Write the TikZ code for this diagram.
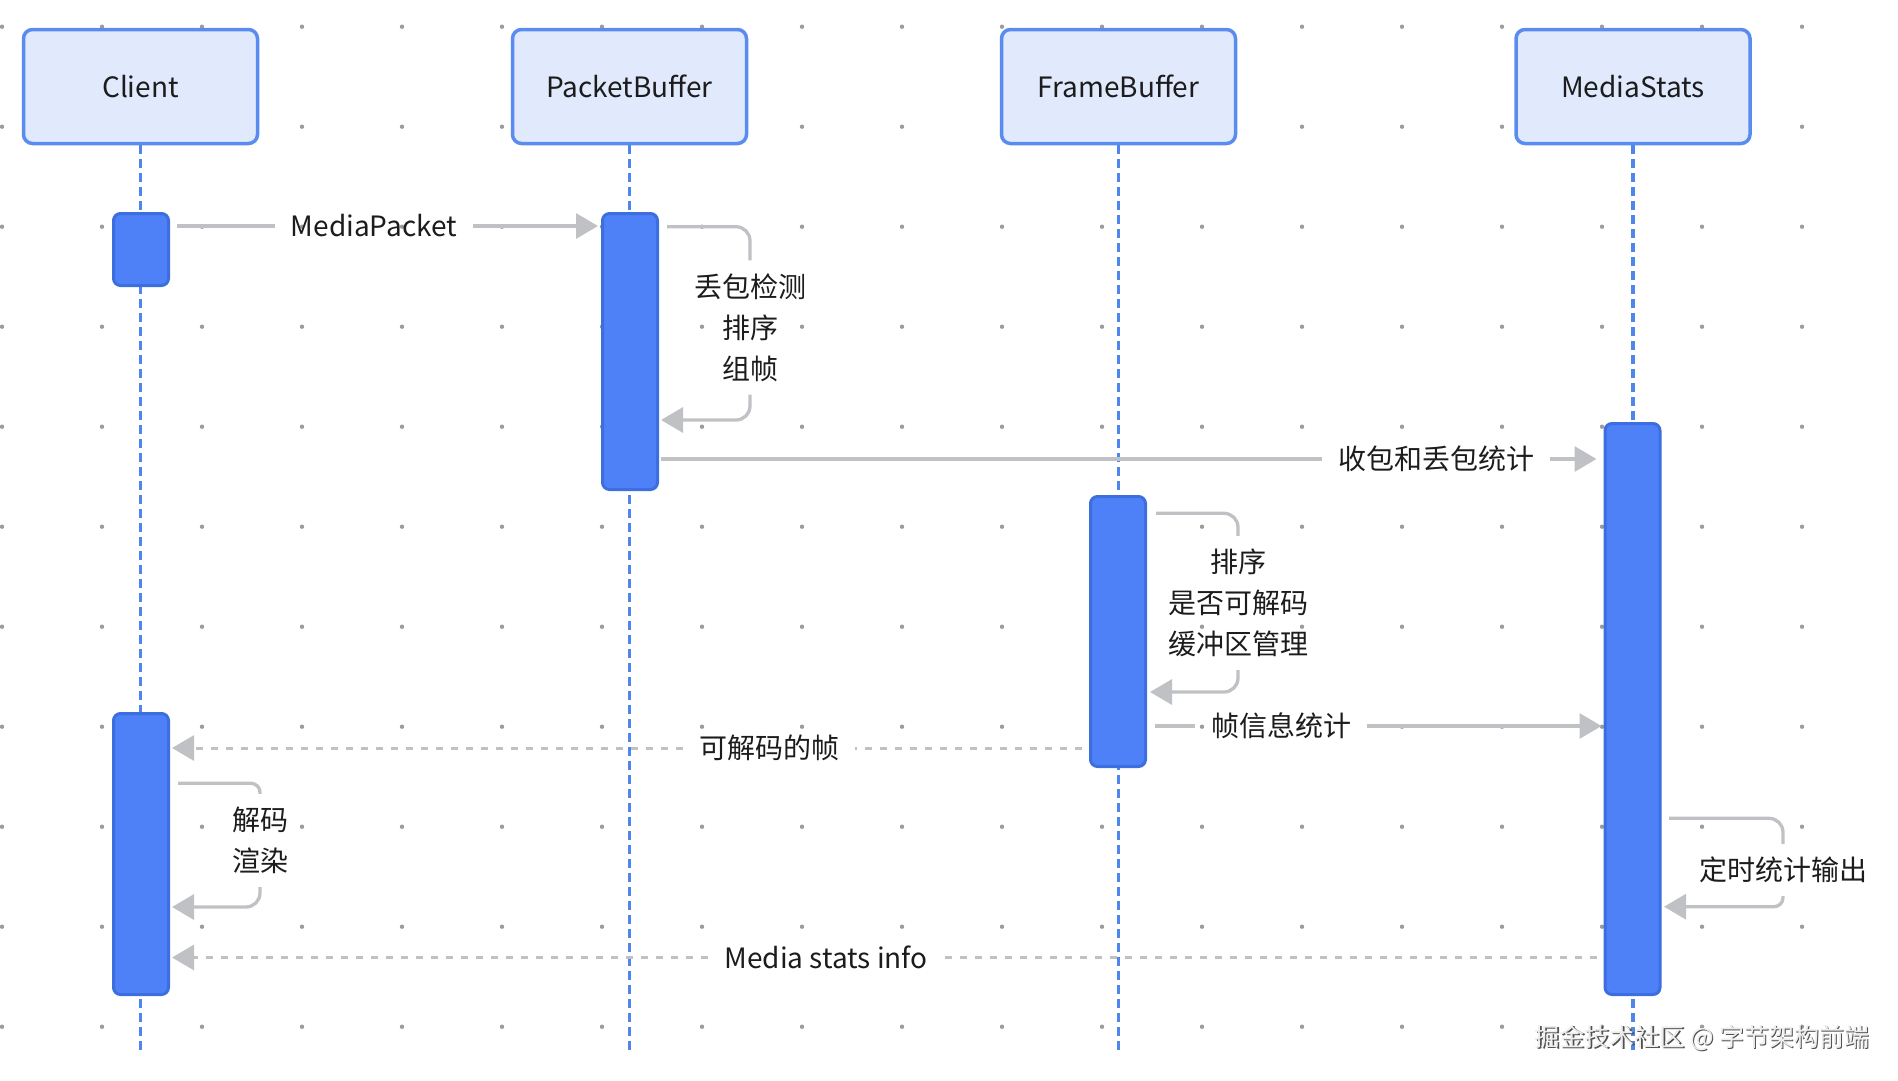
\documentclass[tikz,border=0pt]{standalone}
\usepackage{fontspec}
\setmainfont{Noto Sans CJK SC}
\usetikzlibrary{arrows.meta,positioning,calc}
\usepackage{xcolor}
\definecolor{boxfill}{HTML}{E1EAFD}
\definecolor{boxdraw}{HTML}{5A8CF0}
\definecolor{actfill}{HTML}{4E81F7}
\definecolor{actdraw}{HTML}{3D6EDF}
\definecolor{lifec}{HTML}{4F86EE}
\definecolor{msgc}{HTML}{BFC1C4}
\definecolor{dotc}{HTML}{9C9C9C}
\definecolor{textc}{HTML}{1C1C1C}
\definecolor{markc}{HTML}{EDEDED}
\definecolor{markshade}{HTML}{505050}
\tikzset{%
  >={Triangle[length=22pt,width=25pt]},
  % Specifications for style of nodes:
     actor/.style = {rectangle, rounded corners=9pt, draw=boxdraw,
                     line width=3.5pt, fill=boxfill,
                     minimum width=234pt, minimum height=114pt,
                     text=textc, font=\fontsize{28}{41}\selectfont},
       act/.style = {rectangle, rounded corners=7pt, draw=actdraw,
                     line width=3pt, fill=actfill, minimum width=55pt},
  msglabel/.style = {inner xsep=16pt, inner ysep=0pt, text=textc,
                     font=\fontsize{28}{41}\selectfont},
      note/.style = {align=center, inner xsep=0pt, inner ysep=13pt,
                     text=textc, font=\fontsize{28}{41}\selectfont},
  % Specifications for style of lines:
  lifeline/.style = {draw=lifec, line width=3.3pt, dash pattern=on 9pt off 5pt},
   msgline/.style = {draw=msgc, line width=3.3pt, rounded corners=14pt},
  dashline/.style = {draw=msgc, line width=3pt, dash pattern=on 7pt off 8pt},
}
\begin{document}
\begin{tikzpicture}[x=1pt, y=-1pt]
  \useasboundingbox (0,0) rectangle (1898,1080);
  % dot grid in the background
  \foreach \i in {0,...,18}
    \foreach \j in {0,...,10}
      \fill[dotc] (2+100*\i, 26.7+100*\j) circle (2.2pt);
  % Specification of nodes (position, etc.)
  \node (client) [actor] at (140.5,86.5)  {Client};
  \node (pbuf)   [actor] at (629.5,86.5)  {PacketBuffer};
  \node (fbuf)   [actor] at (1118.5,86.5) {FrameBuffer};
  \node (mstats) [actor] at (1633,86.5)   {MediaStats};
  \coordinate (bottom) at (0,1050);
  % lifelines
  \draw[lifeline] (client.south) -- (client.south |- bottom);
  \draw[lifeline] (pbuf.south)   -- (pbuf.south |- bottom);
  \draw[lifeline] (fbuf.south)   -- (fbuf.south |- bottom);
  \draw[lifeline] (mstats.south) -- (mstats.south |- bottom);
  % activations
  \node (cact1)  [act, minimum height=72pt]  at (141,249.5)  {};
  \node (pbact)  [act, minimum height=276pt] at (630,351.5)  {};
  \node (fbact)  [act, minimum height=270pt] at (1118,631.5) {};
  \node (msact)  [act, minimum height=571pt] at (1632.5,709) {};
  \node (cact2)  [act, minimum height=281pt] at (141,854)    {};
  % labels of the messages
  \node (mpkt)  [msglabel] at (374,226)    {MediaPacket};
  \node (pstat) [msglabel] at (1436,459)   {收包和丢包统计};
  \node (finfo) [msglabel] at (1281,726)   {帧信息统计};
  \node (decf)  [msglabel] at (769,748)    {可解码的帧};
  \node (msinfo)[msglabel] at (826,957.5)  {Media stats info};
  % notes of the self messages
  \node (pbnote) [note] at (750,327.5)  {丢包检测\\排序\\组帧};
  \node (fbnote) [note] at (1238,603)   {排序\\是否可解码\\缓冲区管理};
  \node (cnote)  [note] at (260,840.5)  {解码\\渲染};
  \node (msnote) [note] at (1783,870)   {定时统计输出};
  \coordinate (pbout) at (667,226.7);
  \coordinate (pbin)  at (661,420);
  \coordinate (fbout) at (1156,513.3);
  \coordinate (fbin)  at (1150,692);
  \coordinate (cout)  at (178,783.3);
  \coordinate (cin)   at (172,907);
  \coordinate (msout) at (1669,818.3);
  \coordinate (msin)  at (1664,906.7);
  % Specification of lines between nodes specified above
  \draw[msgline]    ([xshift=7pt]cact1.east |- mpkt) -- (mpkt.west);
  \draw[msgline,->] (mpkt.east) -- ([xshift=-3pt]pbact.west |- mpkt);
  \draw[msgline]    (pbout) -| (pbnote.north);
  \draw[msgline,->] (pbnote.south) |- (pbin);
  \draw[msgline]    ([xshift=2pt]pbact.east |- pstat) -- (pstat.west);
  \draw[msgline,->] (pstat.east) -- ([xshift=-7pt]msact.west |- pstat);
  \draw[msgline]    (fbout) -| (fbnote.north);
  \draw[msgline,->] (fbnote.south) |- (fbin);
  \draw[msgline]    ([xshift=8pt]fbact.east |- finfo) -- (finfo.west);
  \draw[msgline,->] (finfo.east) -- ([xshift=-2pt]msact.west |- finfo);
  \draw[dashline]    ([xshift=-7pt]fbact.west |- decf) -- (decf.east);
  \draw[dashline,->] (decf.west) -- ([xshift=2pt]cact2.east |- decf);
  \draw[msgline,rounded corners=9pt] (cout) -| (cnote.north);
  \draw[msgline,->] (cnote.south) |- (cin);
  \draw[msgline]    (msout) -| (msnote.north);
  \draw[msgline,rounded corners=9pt,->] (msnote.south) |- (msin);
  \draw[dashline]    ([xshift=-7pt]msact.west |- msinfo) -- (msinfo.east);
  \draw[dashline,->] (msinfo.west) -- ([xshift=2pt]cact2.east |- msinfo);
  % watermark, light text with a dark shade
  \node (markshadow) [text=markshade, font=\fontsize{25}{30}\selectfont]
    at (1703.5,1039.5) {掘金技术社区 @ 字节架构前端};
  \node (mark) [text=markc, font=\fontsize{25}{30}\selectfont]
    at (1702,1038) {掘金技术社区 @ 字节架构前端};
\end{tikzpicture}
\end{document}
